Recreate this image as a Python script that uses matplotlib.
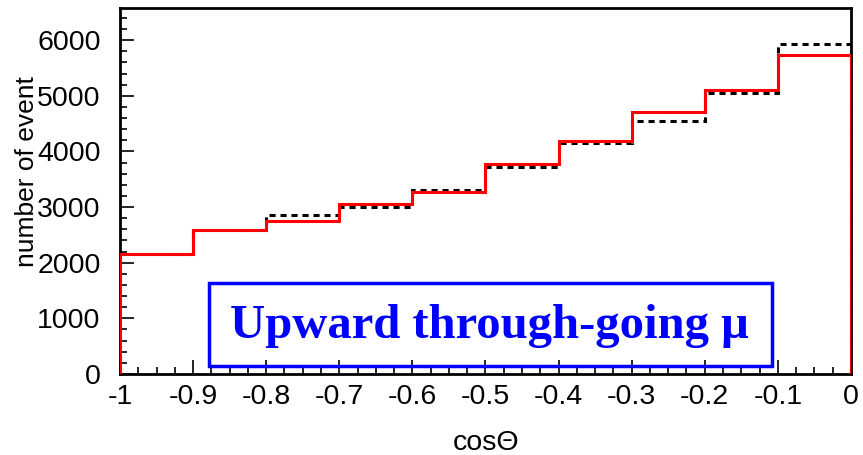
import numpy as np
import matplotlib.pyplot as plt
from matplotlib.patches import Rectangle
from matplotlib.ticker import MultipleLocator

plt.rcParams['font.family'] = ['Liberation Sans', 'DejaVu Sans']

# cos(zenith) bin edges and event counts per bin
bin_edges = [-1.0, -0.9, -0.8, -0.7, -0.6, -0.5, -0.4, -0.3, -0.2, -0.1, 0.0]
counts_red = [2160, 2590, 2750, 3060, 3270, 3770, 4180, 4705, 5105, 5730]
counts_dashed = [2160, 2590, 2865, 3010, 3300, 3720, 4150, 4545, 5055, 5930]

x_ticks = [-1, -0.9, -0.8, -0.7, -0.6, -0.5, -0.4, -0.3, -0.2, -0.1, 0]
x_ticklabels = ['-1', '-0.9', '-0.8', '-0.7', '-0.6', '-0.5', '-0.4', '-0.3', '-0.2', '-0.1', '0']
y_ticks = [0, 1000, 2000, 3000, 4000, 5000, 6000]

fig = plt.figure(figsize=(8.63, 4.55), dpi=100)
ax = fig.add_axes([0.139, 0.178, 0.847, 0.804])

ax.stairs(counts_dashed, bin_edges, baseline=0, color='black', linewidth=2.2,
          linestyle=(0, (2, 1.6)), zorder=2)
ax.stairs(counts_red, bin_edges, baseline=0, color='#ff0000', linewidth=2.2, zorder=3)

ax.set_xlim(-1, 0)
ax.set_ylim(0, 6575)
ax.set_xticks(x_ticks)
ax.set_xticklabels(x_ticklabels)
ax.set_yticks(y_ticks)
ax.xaxis.set_minor_locator(MultipleLocator(0.025))
ax.yaxis.set_minor_locator(MultipleLocator(200))
ax.tick_params(which='both', direction='in', top=False, right=False,
               labelsize=20.5, width=1.2, color='black')
ax.tick_params(which='major', length=10)
ax.tick_params(which='minor', length=5)
ax.tick_params(axis='x', pad=7)
ax.tick_params(axis='y', pad=14)
for s in ax.spines.values():
    s.set_linewidth(2)

# label box
ax.add_patch(Rectangle((0.122, 0.022), 0.770, 0.227, transform=ax.transAxes,
                       fill=False, edgecolor='#0000ff', linewidth=2.5, zorder=4))
ax.text(0.506, 0.13, 'Upward through-going μ', transform=ax.transAxes,
        ha='center', va='center', color='#0000ff', fontsize=35,
        fontweight='bold', family=['Liberation Serif', 'DejaVu Serif'], zorder=5)

fig.text(0.563, 0.027, 'cosΘ', ha='center', va='center', fontsize=20.5)
fig.text(0.031, 0.622, 'number of event', ha='center', va='center',
         rotation=90, fontsize=19)

fig.savefig('out.png', dpi=100)
